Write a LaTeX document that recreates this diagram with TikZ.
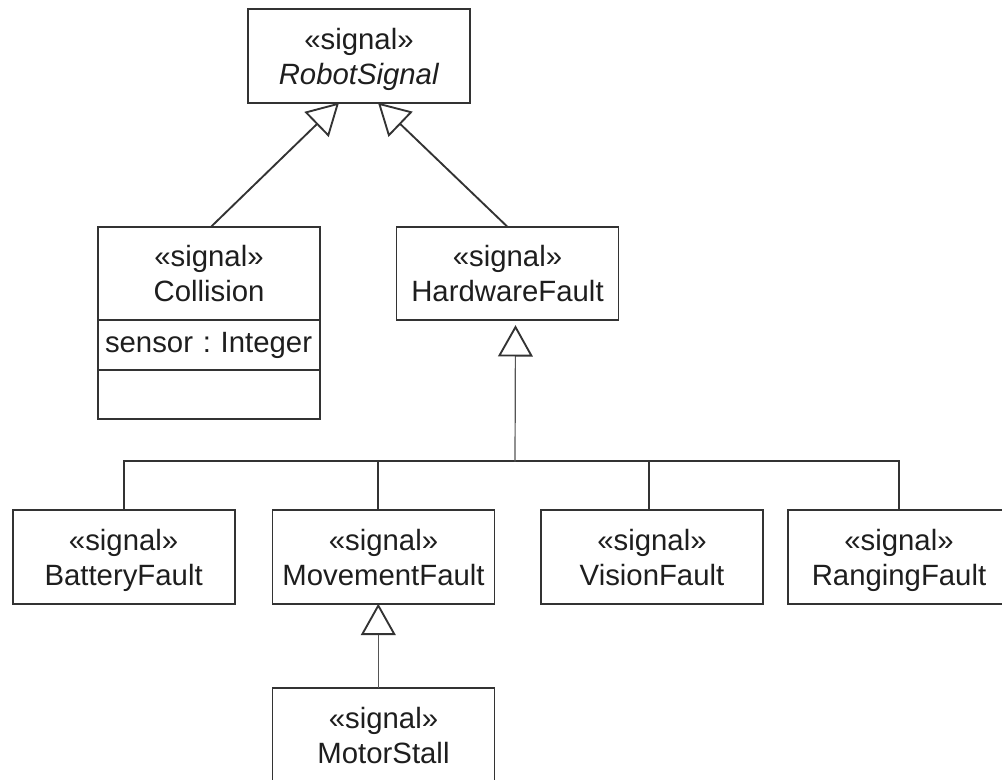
\documentclass[tikz,border=0pt]{standalone}
\usepackage{fontspec}
\setmainfont{Liberation Sans}
\usetikzlibrary{arrows.meta,calc}
\definecolor{ln}{HTML}{333333}
\definecolor{lnthin}{HTML}{555555}
\definecolor{tx}{HTML}{1E1E1E}
\tikzset{
  cls/.style={draw=ln, line width=1.4pt, fill=white, minimum width=166.5pt,
    minimum height=70pt, inner sep=0pt, outer sep=0pt, align=center, text=tx,
    font=\fontsize{22}{26.25}\selectfont, text depth=0pt},
  comp/.style={draw=ln, line width=1.4pt, fill=white, minimum width=166.5pt,
    inner sep=0pt, outer sep=0pt, text=tx,
    font=\fontsize{22}{26.25}\selectfont\frenchspacing},
  gen/.style={draw=ln, line width=1.4pt,
    -{Triangle[length=23.5pt, width=26pt, fill=white]}},
  genthin/.style={draw=lnthin, line width=0.9pt,
    -{Triangle[length=23.5pt, width=26pt, fill=white, color=ln, line width=1.4pt]}},
  bus/.style={draw=ln, line width=1.4pt},
}
\begin{document}
\begin{tikzpicture}[x=0.75pt, y=-0.75pt]
\fill[white] (0,0) rectangle (1002,780);
\path[use as bounding box] (0,0) rectangle (1002,780);
\clip (0,0) rectangle (1002,780);

% top
\node[cls] (rs) at (359,56) {«signal»\\\textit{RobotSignal}};

% second row
\node[cls] (coll) at (209,273.5) {«signal»\\Collision};
\node[comp, anchor=north, minimum height=37.5pt, text width=156pt, align=left]
  (collattr) at (coll.south) {\mbox{sensor : Integer}};
\node[comp, anchor=north, minimum height=36.75pt] (collops) at (collattr.south) {};
\node[cls] (hf) at (507.5,273.5) {«signal»\\HardwareFault};

% third row
\node[cls] (bf) at (123.6,557) {«signal»\\BatteryFault};
\node[cls] (mf) at (383.5,557) {«signal»\\MovementFault};
\node[cls] (vf) at (652,557) {«signal»\\VisionFault};
\node[cls] (rf) at (899,557) {«signal»\\RangingFault};

% fourth row
\node[cls] (ms) at (383.5,735) {«signal»\\MotorStall};

% generalizations to RobotSignal
\draw[gen] ([xshift=1.5pt]coll.north) -- ([xshift=-15pt]rs.south);
\draw[gen] (hf.north) -- ([xshift=14.25pt]rs.south);

% bus to HardwareFault
\draw[bus] (bf.north) -- ++(0,-49) -| (rf.north);
\draw[bus] ([xshift=-3.9pt]mf.north) -- ++(0,-49);
\draw[bus] ([xshift=-2.55pt]vf.north) -- ++(0,-49);
\coordinate (j) at (515,461.5);
\draw[genthin] (j) -- ([xshift=6pt,yshift=-3.75pt]hf.south);

% MotorStall to MovementFault
\draw[genthin] ([xshift=-3.9pt]ms.north) -- ([xshift=-3.9pt]mf.south);
\end{tikzpicture}
\end{document}
